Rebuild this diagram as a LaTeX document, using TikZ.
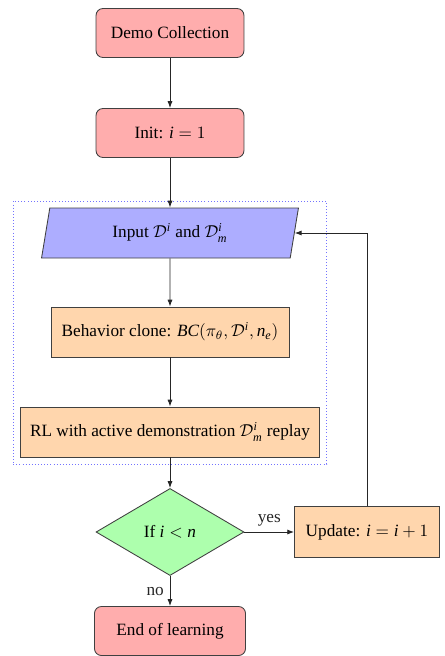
\documentclass[tikz,border=0pt]{standalone}
\usepackage{fontspec}
\setmainfont{Liberation Serif}
\usetikzlibrary{shapes.geometric,arrows.meta,fit,calc}
\newcommand{\vi}{\mathit{i}}
\newcommand{\vn}{\mathit{n}}
\newcommand{\vm}{\mathit{m}}
\begin{document}
\begin{tikzpicture}[x=0.58pt,y=-0.58pt,
  font=\fontsize{10pt}{12pt}\selectfont,
  base/.style={draw=black!75, line width=0.5pt, align=center, inner sep=2pt},
  redbox/.style={base, rectangle, rounded corners=4pt, fill=red!32, minimum width=85.8pt, minimum height=28.4pt},
  orangebox/.style={base, rectangle, fill=orange!32, minimum height=29pt},
  iobox/.style={base, trapezium, trapezium left angle=72, trapezium right angle=108, trapezium stretches body=true, fill=blue!32, minimum width=149pt, minimum height=29pt},
  decbox/.style={base, diamond, fill=green!32, minimum width=85.8pt, minimum height=50.5pt, inner sep=0pt},
  arr/.style={-{Latex[length=4pt,width=3pt]}, line width=0.55pt, black!85},
  lbl/.style={font=\fontsize{10pt}{12pt}\selectfont}
]
\useasboundingbox (0,0) rectangle (444,656);
\node[redbox] (demo) at (170,33) {Demo Collection};
\node[redbox] (init) at (170,133) {Init: $\vi = 1$};
\node[iobox] (input) at (170,233) {Input $\mathcal{D}^{\vi}$ and $\mathcal{D}_{\vm}^{\vi}$};
\node[orangebox, minimum width=138pt] (bc) at (170,332) {Behavior clone: $\mathit{BC}(\pi_\theta,\mathcal{D}^{\vi},\vn_{\mathit{e}})$};
\node[orangebox, minimum width=173.4pt] (rl) at (170,432) {RL with active demonstration $\mathcal{D}_{\vm}^{\vi}$ replay};
\node[decbox] (dec) at (170,532) {If $\vi < \vn$};
\node[orangebox, minimum width=84pt, minimum height=29.6pt] (upd) at (367,532) {Update: $\vi = \vi + 1$};
\node[redbox, minimum width=87.6pt] (end) at (170,631) {End of learning};
\node[draw=blue!55, dash pattern=on 0.4pt off 1.4pt, line width=0.5pt, fit=(input)(bc)(rl), inner xsep=4pt, inner ysep=3.8pt] (grp) {};
\coordinate (corner) at (upd.north |- input.east);
\draw[arr] (demo) -- (init);
\draw[arr] (init) -- (input);
\draw[arr] (input) -- (bc);
\draw[arr] (bc) -- (rl);
\draw[arr] (rl) -- (dec);
\draw[arr] (dec) -- node[lbl, above] {yes} (upd);
\draw[arr] (dec) -- node[lbl, left] {no} (end);
\draw[arr] (upd.north) -- (corner) -- (input.east);
\end{tikzpicture}
\end{document}
